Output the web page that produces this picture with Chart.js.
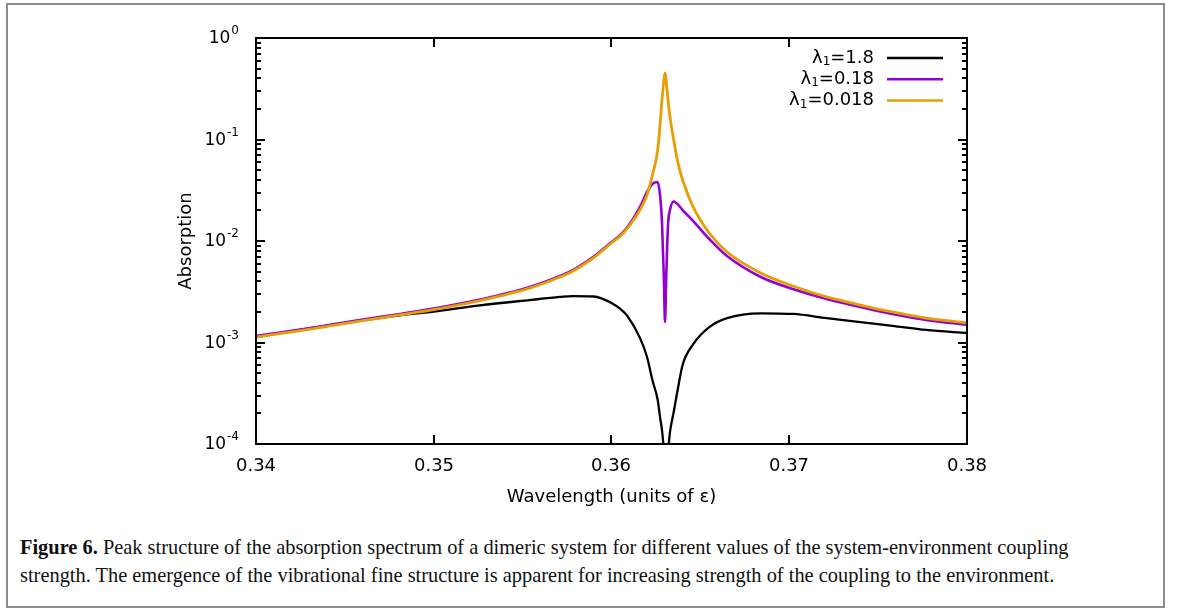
<!DOCTYPE html>
<html>
<head>
<meta charset="utf-8">
<script src="https://cdn.jsdelivr.net/npm/chart.js@4.4.1/dist/chart.umd.min.js"></script>
<style>
  body { margin: 0; background: #fff; }
  #box { position: absolute; left: 6px; top: 3px; width: 1155px; height: 601px; border: 2px solid #8c8c8c; }
  #wrap { position: absolute; left: 0; top: 0; width: 1179px; height: 520px; }
  #caption { position: absolute; left: 20px; top: 533px; font-family: "Liberation Serif", serif; font-size: 20.4px; line-height: 28px; color: #111; white-space: nowrap; }
</style>
</head>
<body>
<div id="box"></div>
<div id="wrap"><canvas id="chart"></canvas></div>
<div id="caption"><b>Figure 6.</b> Peak structure of the absorption spectrum of a dimeric system for different values of the system-environment coupling<br>strength. The emergence of the vibrational fine structure is apparent for increasing strength of the coupling to the environment.</div>
<script>
// wavelength grid (units of epsilon), denser around the resonance
const wavelength = [
  0.3400, 0.3425, 0.3453, 0.3481, 0.3500, 0.3526, 0.3554, 0.3571, 0.3578, 0.3590,
  0.3594, 0.3600, 0.3605, 0.3609, 0.3616, 0.3620, 0.3623, 0.3626, 0.36273, 0.36284,
  0.36295, 0.36301, 0.36307, 0.36318, 0.36329, 0.3635, 0.3637, 0.3640, 0.3646, 0.3655,
  0.3665, 0.3684, 0.3702, 0.3721, 0.3740, 0.3758, 0.3777, 0.3800,
];

// lambda1 = 1.8
const absorptionStrong = [
  0.00113, 0.00133, 0.00159, 0.00185, 0.00202, 0.00232, 0.00262, 0.00281, 0.00287, 0.00284,
  0.00274, 0.00245, 0.00214, 0.00182, 0.00111, 0.000720, 0.000427, 0.000271, 0.000185, 0.000137,
  0.000083, 0.0000495, 0.0000495, 0.000083, 0.000131, 0.000207, 0.000325, 0.000600, 0.000966, 0.00142,
  0.00174, 0.00194, 0.00191, 0.00174, 0.00159, 0.00146, 0.00133, 0.00124,
];

// lambda1 = 0.18
const absorptionMid = [
  0.00116, 0.00134, 0.00161, 0.00191, 0.00216, 0.00265, 0.00352, 0.00452, 0.00513, 0.00702,
  0.00797, 0.00977, 0.01146, 0.01371, 0.0216, 0.0304, 0.0365, 0.0381, 0.0284, 0.0154,
  0.00413, 0.00159, 0.00386, 0.0144, 0.0202, 0.0245, 0.0232, 0.0202, 0.0157, 0.01047,
  0.00711, 0.00442, 0.00337, 0.00268, 0.00224, 0.00191, 0.00167, 0.00149,
];

// lambda1 = 0.018
const absorptionWeak = [
  0.00113, 0.00131, 0.00157, 0.00187, 0.00211, 0.00259, 0.00344, 0.00442, 0.00501, 0.00686,
  0.00779, 0.00955, 0.0112, 0.0134, 0.0202, 0.0284, 0.0447, 0.0788, 0.139, 0.245,
  0.386, 0.452, 0.386, 0.245, 0.167, 0.0989, 0.0628, 0.0399, 0.0216, 0.0120,
  0.00779, 0.00484, 0.00360, 0.00281, 0.00234, 0.00200, 0.00174, 0.00156,
];

const seriesLabels = ["1.8", "0.18", "0.018"];
const seriesColors = ["#000000", "#9400d3", "#e69f00"];
const xTicks = [0.34, 0.35, 0.36, 0.37, 0.38];
const yExponents = [0, -1, -2, -3, -4];

function points(values) {
  return wavelength.map((w, i) => ({ x: w, y: values[i] }));
}

// gnuplot-like frame: inward ticks, 10^n labels, axis titles and legend
const frame = {
  id: "frame",
  afterDraw(chart) {
    const { ctx, chartArea: a, scales } = chart;
    const x = scales.x, y = scales.y;
    ctx.save();
    ctx.strokeStyle = "#000";
    ctx.fillStyle = "#000";
    ctx.lineWidth = 2;
    ctx.strokeRect(a.left, a.top, a.right - a.left, a.bottom - a.top);

    const seg = (x1, y1, x2, y2) => {
      ctx.beginPath(); ctx.moveTo(x1, y1); ctx.lineTo(x2, y2); ctx.stroke();
    };

    ctx.font = '18px "DejaVu Sans"';
    ctx.textAlign = "center";
    ctx.textBaseline = "middle";
    xTicks.forEach((v) => {
      const px = Math.round(x.getPixelForValue(v));
      seg(px, a.bottom, px, a.bottom - 9);
      seg(px, a.top, px, a.top + 9);
      ctx.fillText(v.toFixed(2), px, a.bottom + 22);
    });

    yExponents.forEach((e) => {
      for (let m = 1; m < 10; m++) {
        const v = m * Math.pow(10, e);
        if (v > 1) break;
        const py = Math.round(y.getPixelForValue(v));
        const len = m === 1 ? 9 : 5;
        seg(a.left, py, a.left + len, py);
        seg(a.right, py, a.right - len, py);
      }
      const py = y.getPixelForValue(Math.pow(10, e));
      const exp = String(e);
      ctx.font = '12px "DejaVu Sans"';
      const ew = ctx.measureText(exp).width;
      ctx.textAlign = "left";
      ctx.fillText(exp, a.left - 17 - ew, py - 7);
      ctx.font = '17px "DejaVu Sans"';
      ctx.textAlign = "right";
      ctx.fillText("10", a.left - 18 - ew, py + 1);
    });

    ctx.font = '18px "DejaVu Sans"';
    ctx.textAlign = "center";
    ctx.fillText("Wavelength (units of \u03b5)", (a.left + a.right) / 2, a.bottom + 53);
    ctx.save();
    ctx.translate(186, (a.top + a.bottom) / 2);
    ctx.rotate(-Math.PI / 2);
    ctx.fillText("Absorption", 0, 0);
    ctx.restore();

    // legend
    chart.data.datasets.forEach((ds, i) => {
      const ly = a.top + 20 + i * 21.3;
      const parts = [
        ["\u03bb", '18px "DejaVu Sans"', 0],
        ["1", '12px "DejaVu Sans"', 4],
        ["=" + seriesLabels[i], '18px "DejaVu Sans"', 0],
      ];
      let total = 0;
      parts.forEach((p) => { ctx.font = p[1]; total += ctx.measureText(p[0]).width; });
      let cx = a.right - 93 - total;
      ctx.textAlign = "left";
      parts.forEach((p) => {
        ctx.font = p[1];
        ctx.fillText(p[0], cx, ly + p[2]);
        cx += ctx.measureText(p[0]).width;
      });
      ctx.strokeStyle = ds.borderColor;
      ctx.lineWidth = 2.5;
      seg(a.right - 80, ly, a.right - 24, ly);
    });
    ctx.restore();
  },
};

new Chart(document.querySelector("#chart").getContext("2d"), {
  type: "line",
  data: {
    datasets: [
      { label: "1.8", data: points(absorptionStrong), borderColor: seriesColors[0], borderWidth: 2.3, order: 3 },
      { label: "0.18", data: points(absorptionMid), borderColor: seriesColors[1], borderWidth: 2.6, order: 2 },
      { label: "0.018", data: points(absorptionWeak), borderColor: seriesColors[2], borderWidth: 2.8, order: 1 },
    ],
  },
  options: {
    responsive: true,
    maintainAspectRatio: false,
    animation: false,
    layout: { padding: { left: 256, right: 212, top: 38, bottom: 76 } },
    elements: {
      point: { radius: 0 },
      line: { cubicInterpolationMode: "monotone", fill: false },
    },
    plugins: { legend: { display: false }, tooltip: { enabled: false } },
    scales: {
      x: { type: "linear", min: 0.34, max: 0.38, display: false },
      y: { type: "logarithmic", min: 1e-4, max: 1, display: false },
    },
  },
  plugins: [frame],
});
</script>
</body>
</html>
